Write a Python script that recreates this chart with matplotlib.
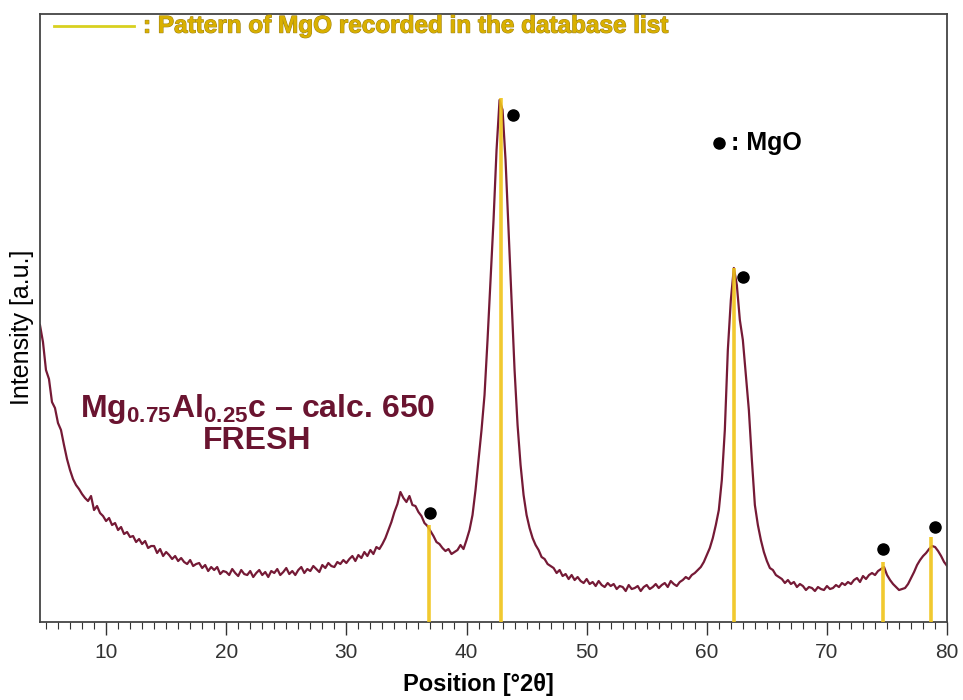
import numpy as np
import matplotlib
matplotlib.use("Agg")
import matplotlib.pyplot as plt
import matplotlib.patheffects as pe
from matplotlib.ticker import MultipleLocator

plt.rcParams["font.family"] = ["Liberation Sans", "DejaVu Sans"]
plt.rcParams["mathtext.fontset"] = "custom"
plt.rcParams["mathtext.rm"] = "Liberation Sans:bold"
plt.rcParams["mathtext.bf"] = "Liberation Sans:bold"

# XRD scan, 2theta from 4.5 to 80 in 0.25 deg steps (intensity in a.u.)
theta_start = 4.5
theta_step = 0.25
intensity = [
    297, 280,
    252, 243, 220, 214,   # 5
    199, 192, 177, 163,   # 6
    152, 143, 137, 133,   # 7
    128, 124, 121, 126,   # 8
    112, 116, 109, 106,   # 9
    101, 104, 97, 99,     # 10
    92, 95, 88, 90,       # 11
    85, 86, 80, 83,       # 12
    78, 81, 74, 76,       # 13
    76, 69, 73, 66,       # 14
    70, 67, 63, 66,       # 15
    61, 64, 60, 58,       # 16
    62, 56, 58, 59,       # 17
    54, 57, 51, 55,       # 18
    52, 55, 48, 51,       # 19
    50, 47, 53, 49,       # 20
    46, 52, 48, 47,       # 21
    51, 45, 49, 52,       # 22
    47, 50, 45, 51,       # 23
    49, 53, 47, 50,       # 24
    54, 48, 51, 47,       # 25
    52, 55, 49, 53,       # 26
    51, 56, 53, 50,       # 27
    57, 54, 59, 56,       # 28
    55, 60, 58, 62,       # 29
    59, 63, 66, 61,       # 30
    67, 64, 70, 66,       # 31
    72, 68, 75, 73,       # 32
    78, 84, 92, 100,      # 33
    110, 118, 130, 124,   # 34
    120, 126, 117, 116,   # 35
    110, 106, 99, 96,     # 36
    91, 86, 80, 78,       # 37
    74, 71, 73, 68,       # 38
    70, 72, 77, 73,       # 39
    82, 92, 107, 132,     # 40
    162, 192, 227, 282,   # 41
    342, 402, 472, 522,   # 42
    512, 462, 392, 322,   # 43
    252, 197, 157, 127,   # 44
    107, 94, 84, 77,      # 45
    72, 65, 63, 58,       # 46
    56, 54, 49, 52,       # 47
    46, 48, 43, 47,       # 48
    42, 45, 41, 39,       # 49
    43, 38, 40, 36,       # 50
    41, 37, 35, 39,       # 51
    36, 38, 33, 36,       # 52
    35, 31, 37, 33,       # 53
    34, 36, 31, 35,       # 54
    37, 33, 35, 38,       # 55
    34, 37, 39, 35,       # 56
    41, 38, 36, 40,       # 57
    42, 45, 43, 47,       # 58
    49, 52, 55, 60,       # 59
    67, 74, 84, 97,       # 60
    112, 142, 192, 272,   # 61
    322, 354, 337, 302,   # 62
    282, 247, 212, 162,   # 63
    117, 97, 82, 70,      # 64
    61, 54, 52, 47,       # 65
    45, 43, 39, 42,       # 66
    38, 40, 35, 38,       # 67
    36, 32, 35, 34,       # 68
    31, 35, 33, 32,       # 69
    36, 33, 34, 37,       # 70
    35, 39, 37, 40,       # 71
    38, 42, 44, 40,       # 72
    46, 43, 47, 49,       # 73
    47, 51, 53, 55,       # 74
    47, 42, 38, 35,       # 75
    32, 33, 34, 38,       # 76
    44, 50, 57, 62,       # 77
    66, 69, 73, 76,       # 78
    75, 71, 66, 60,       # 79
    56,                   # 80
]
two_theta = theta_start + theta_step * np.arange(len(intensity))

# MgO reference pattern (database sticks)
ref_pos = [36.9, 42.9, 62.3, 74.7, 78.7]
ref_int = [97, 524, 354, 60, 85]

# MgO markers
dot_pos = [36.95, 43.9, 63.05, 74.7, 79.0]
dot_int = [109, 507, 345, 73, 95]

curve_col = "#751a36"
stick_col = "#f0c419"
label_col = "#6a1430"

fig = plt.figure(figsize=(9.63, 7.0), dpi=100)
ax = fig.add_axes([0.0415, 0.1114, 0.942, 0.8686])

ax.plot(two_theta, intensity, color=curve_col, lw=1.6, zorder=2)
ax.vlines(ref_pos, 0, ref_int, color=stick_col, lw=2.6, alpha=0.9, zorder=3)
ax.plot(dot_pos, dot_int, "o", color="black", ms=8, zorder=4)

ax.set_xlim(4.5, 80)
ax.set_ylim(0, 608)
ax.xaxis.set_major_locator(MultipleLocator(10))
ax.xaxis.set_minor_locator(MultipleLocator(1))
ax.tick_params(axis="x", which="major", direction="out", length=9, width=1,
               labelsize=15, colors="#333333", pad=6)
ax.tick_params(axis="x", which="minor", direction="out", length=5, width=0.8,
               colors="#333333")
ax.set_yticks([])
for sp in ax.spines.values():
    sp.set_color("#444444")
    sp.set_linewidth(1.3)

ax.set_xlabel("Position [°2θ]", fontsize=17, fontweight="bold")
ax.xaxis.set_label_coords(0.483, -0.084)
ax.set_ylabel("Intensity [a.u.]", fontsize=18)
ax.yaxis.set_label_coords(-0.007, 0.484)

# database legend line at the top
ax.plot([0.0154, 0.1036], [0.980, 0.980], color="#d8d020", lw=2,
        transform=ax.transAxes, clip_on=False)
ax.text(0.1136, 0.980, ": Pattern of MgO recorded in the database list",
        transform=ax.transAxes, ha="left", va="center", fontsize=17.5,
        fontweight="bold", color="#d9b000",
        path_effects=[pe.withStroke(linewidth=0.8, foreground="#a08418")])

# MgO marker legend
ax.plot([61.0], [479], "o", color="black", ms=8)
ax.text(62.0, 479, ": MgO", ha="left", va="center", fontsize=18,
        fontweight="bold", color="black")

ax.text(22.6, 213, r"Mg$_{0.75}$Al$_{0.25}$c – calc. 650", ha="center",
        va="center", fontsize=23, fontweight="bold", color=label_col)
ax.text(22.6, 181, "FRESH", ha="center", va="center", fontsize=23,
        fontweight="bold", color=label_col)

fig.savefig("out.png", dpi=100)
